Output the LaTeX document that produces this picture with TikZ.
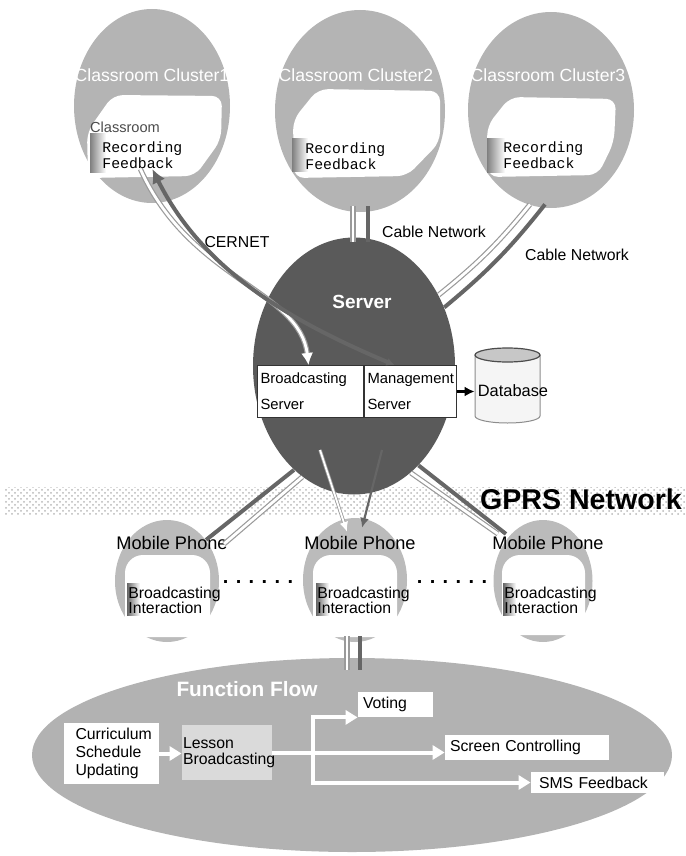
\documentclass[tikz,border=0pt]{standalone}
\usepackage{fontspec}
\setmainfont{Liberation Sans}
\setmonofont{Liberation Mono}
\usepackage{tikz}
\usetikzlibrary{arrows.meta,shapes.geometric,patterns}
\definecolor{ClusterGray}{HTML}{B4B4B4}
\definecolor{ServerGray}{HTML}{5A5A5A}
\definecolor{PhoneGray}{HTML}{BBBBBB}
\definecolor{FlowGray}{HTML}{B2B2B2}
\definecolor{LessonGray}{HTML}{DADADA}
\definecolor{WireDark}{HTML}{666666}
\definecolor{WireEdge}{HTML}{9A9A9A}

\begin{document}
\begin{tikzpicture}[
	x=0.5pt, y=-0.5pt,
	font=\fontsize{7.9}{9}\selectfont,
	blob/.style={ellipse, inner sep=0pt},
	hall/.style={font=\fontsize{8.8}{10}\selectfont, text=white},
	recbox/.style={
		font=\ttfamily\fontsize{7.4}{8.2}\selectfont,
		align=left,
		anchor=west,
		inner sep=0pt
	},
	actbox/.style={
		font=\fontsize{7.9}{7.6}\selectfont,
		align=left,
		anchor=west,
		inner sep=0pt
	},
	phonetag/.style={font=\fontsize{9.1}{10}\selectfont, inner sep=0pt},
	srvbox/.style={
		draw=black!80,
		fill=white,
		line width=0.5pt,
		anchor=north west,
		align=left,
		minimum height=26pt,
		inner xsep=1.5pt,
		font=\fontsize{7.4}{13}\selectfont
	},
	flowbox/.style={fill=white, align=left, inner ysep=1pt},
	darkwire/.style={draw=WireDark, line width=2pt},
	lightwire/.style={
		draw=white,
		line width=1.4pt,
		preaction={draw=WireEdge, line width=2.6pt}
	},
	thindark/.style={draw=WireDark, line width=1.1pt, -{Latex[length=5pt,width=4.5pt]}},
	thinlight/.style={
		draw=white,
		line width=0.9pt,
		preaction={draw=WireEdge, line width=1.7pt},
		-{Latex[length=5pt,width=4.5pt]}
	},
	wflow/.style={draw=white, line width=2pt}
]
\useasboundingbox (0,0) rectangle (685,856);

% GPRS band
\node[minimum width=340pt, minimum height=14pt, inner sep=0pt,
	pattern=crosshatch dots, pattern color=black!28] (band) at (345,501) {};

% classroom clusters
\node[blob, fill=ClusterGray, minimum width=78pt, minimum height=97pt] (cl1) at (152,106) {};
\node[blob, fill=ClusterGray, minimum width=85pt, minimum height=101pt] (cl2) at (360,111) {};
\node[blob, fill=ClusterGray, minimum width=83pt, minimum height=98pt] (cl3) at (551,110) {};

\fill[white, rounded corners=5pt] (87,132) -- (113,95) -- (222,96) -- (221,140) -- (195,176) -- (88,178) -- cycle;
\fill[white, rounded corners=5pt] (293,120) -- (318,89) -- (440,91) -- (440,142) -- (407,176) -- (294,178) -- cycle;
\fill[white, rounded corners=5pt] (487,126) -- (510,97) -- (616,99) -- (614,142) -- (598,175) -- (488,177) -- cycle;

\shade[left color=black!50, right color=white] (90,133) rectangle (106,172);
\shade[left color=black!50, right color=white] (292,138) rectangle (308,171);
\shade[left color=black!50, right color=white] (487,138) rectangle (505,172);

\node[hall] (cl1name) at (152,75) {Classroom Cluster1};
\node[hall] (cl2name) at (356,75) {Classroom Cluster2};
\node[hall] (cl3name) at (548,75) {Classroom Cluster3};
\node[font=\fontsize{7.3}{8}\selectfont, text=black!70] (room) at (125,127) {Classroom};

\node[recbox] (rec1) at (102,155) {Recording\\Feedback};
\node[recbox] (rec2) at (305,156) {Recording\\Feedback};
\node[recbox] (rec3) at (503,155) {Recording\\Feedback};

% server
\node[blob, fill=ServerGray, minimum width=101pt, minimum height=128.5pt] (server) at (354,366) {};
\node[font=\bfseries\fontsize{9.5}{10}\selectfont, text=white] (srvname) at (362,302) {Server};
\node[srvbox, minimum width=53pt, text width=50pt] (bserv) at (257,365) {Broadcasting\\Server};
\node[srvbox, minimum width=46pt, text width=43pt] (mserv) at (364,365) {Management\\Server};

% database
\node[minimum width=32.5pt, minimum height=37.5pt, inner sep=0pt] (db) at (507.5,386) {};
\fill[black!4] (475,355) rectangle (540,416);
\fill[black!4] (507.5,416) ellipse [x radius=32.5, y radius=7];
\draw[black!45, line width=0.5pt] (475,355) -- (475,416)
	arc[start angle=180, end angle=0, x radius=32.5, y radius=7] -- (540,355);
\filldraw[fill=black!22, draw=black!70, line width=0.6pt] (507.5,355) ellipse [x radius=32.5, y radius=7];
\node[font=\fontsize{8.2}{9}\selectfont] (dbname) at (513,391) {Database};
\draw[-{Latex[length=5pt,width=5pt]}, line width=1.5pt] (mserv.east) -- (mserv.east -| db.west);

% cable network
\draw[lightwire] ([xshift=-3.5pt,yshift=3pt]cl2.south) -- ++(0,36);
\draw[darkwire] ([xshift=4pt,yshift=3pt]cl2.south) -- ++(0,36);
\draw[lightwire] ([xshift=-10.5pt,yshift=2pt]cl3.south) to[bend left=6] (server.40);
\draw[darkwire] ([xshift=-3pt,yshift=2pt]cl3.south) to[bend left=6] (server.33);
\node (cable1) at (434,232) {Cable Network};
\node (cable2) at (577,255) {Cable Network};

% CERNET
\draw[lightwire, -{Latex[length=6pt,width=6pt]}] ([xshift=-1pt]rec1.south)
	.. controls (190,280) and (300,290) .. ([xshift=-1pt]bserv.north);
\draw[darkwire, {Latex[length=4pt,width=4pt]}-{Latex[length=7pt,width=7pt]}] ([xshift=-8pt]mserv.north)
	.. controls (300,325) and (205,275) .. ([xshift=5pt]rec1.south);
\node (cernet) at (237,242) {CERNET};

% mobile phones
\node[blob, fill=PhoneGray, minimum width=52pt, minimum height=61pt] (ph1) at (167,581) {};
\node[blob, fill=PhoneGray, minimum width=52pt, minimum height=62pt] (ph2) at (355,580) {};
\node[blob, fill=PhoneGray, minimum width=49.5pt, minimum height=61pt] (ph3) at (543,581) {};

\fill[white, rounded corners=9pt] (125,555) rectangle (210,637);
\fill[white, rounded corners=9pt] (313,555) rectangle (397,637);
\fill[white, rounded corners=9pt] (502,555) rectangle (585,635);

\shade[left color=black!60, right color=white] (127,583) rectangle (140,615);
\shade[left color=black!60, right color=white] (316,583) rectangle (329,615);
\shade[left color=black!60, right color=white] (503,583) rectangle (516,615);

\node[phonetag] (mp1) at (172,543) {Mobile Phone};
\node[phonetag] (mp2) at (360,543) {Mobile Phone};
\node[phonetag] (mp3) at (548,543) {Mobile Phone};

\node[actbox] (act1) at (128,600) {Broadcasting\\Interaction};
\node[actbox] (act2) at (317,600) {Broadcasting\\Interaction};
\node[actbox] (act3) at (504,600) {Broadcasting\\Interaction};

\node[font=\bfseries\fontsize{10}{10}\selectfont, anchor=base] (dots1) at (258,583) {. . . . . .};
\node[font=\bfseries\fontsize{10}{10}\selectfont, anchor=base] (dots2) at (452,583) {. . . . . .};

\node[font=\bfseries\fontsize{14.3}{16}\selectfont] (gprs) at (581,499) {GPRS Network};

% GPRS links
\draw[lightwire] (server.245) -- ([xshift=-2pt,yshift=-4pt]mp1.north east);
\draw[darkwire] (server.240) -- ([xshift=-11pt,yshift=-2pt]mp1.north east);
\draw[lightwire] (server.298) -- ([xshift=3pt,yshift=1pt]mp3.north west);
\draw[darkwire] (server.303) -- ([xshift=7pt,yshift=1pt]mp3.north west);
\coordinate (srvlo) at (320,450);
\coordinate (srvro) at (382,450);
\draw[thinlight] (srvlo) -- ([xshift=-6.5pt,yshift=2pt]mp2.north);
\draw[thindark] (srvro) -- ([xshift=1pt,yshift=4pt]mp2.north);

% function flow
\node[blob, fill=FlowGray, minimum width=320pt, minimum height=97pt] (flow) at (352,755) {};
\draw[lightwire] ([xshift=-4pt,yshift=3pt]ph2.south) -- ++(0,34);
\draw[darkwire] ([xshift=2.5pt,yshift=3pt]ph2.south) -- ++(0,34);
\node[font=\bfseries\fontsize{10.4}{11}\selectfont, text=white] (flowname) at (247,689) {Function Flow};

\node[flowbox, minimum width=47.5pt, minimum height=30.5pt, text width=36pt] (cur) at (111.5,753.5)
	{Curriculum\\Schedule\\Updating};
\node[flowbox, fill=LessonGray, minimum width=45pt, minimum height=27.5pt, text width=44pt, inner xsep=0.5pt,
	font=\fontsize{7.9}{8}\selectfont] (lesson) at (227,752.5) {Lesson\\Broadcasting};
\node[flowbox, minimum width=37.5pt, minimum height=12.5pt, text width=32.5pt, inner xsep=2.5pt] (vote) at (395.5,704.5) {Voting};
\node[flowbox, minimum width=82pt, minimum height=12.5pt, text width=77pt, inner xsep=2.5pt] (screen) at (527,747.5) {Screen Controlling};
\node[flowbox, minimum width=66.5pt, minimum height=10.5pt, text width=58.5pt, inner xsep=4pt] (sms) at (597.5,782.5) {SMS Feedback};

\coordinate (split) at (313,752);
\draw[wflow, -{Triangle[length=6pt,width=7pt]}] (cur.east) -- (cur.east -| lesson.west);
\draw[wflow, -{Triangle[length=6pt,width=7pt]}] (lesson.east) -- (lesson.east -| screen.west);
\draw[wflow, {Triangle[length=6pt,width=7pt]}-{Triangle[length=6pt,width=7pt]}] (vote.south west)
	-- (split |- vote.south west) -- (split |- sms.west) -- (sms.west);

\end{tikzpicture}
\end{document}
